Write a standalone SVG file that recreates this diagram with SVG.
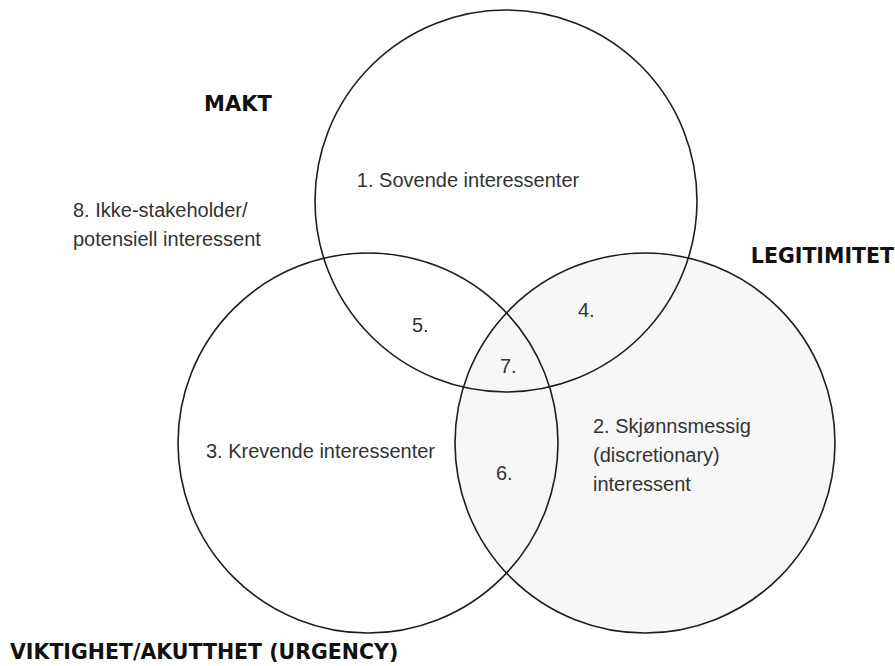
<svg xmlns="http://www.w3.org/2000/svg" width="895" height="666" viewBox="0 0 895 666">
<style>
.c{fill:none;stroke:#1e1e1e;stroke-width:1.6}
.t{font-family:"Liberation Sans",Arial,sans-serif;font-size:20px;fill:#333}
.h{font-family:"DejaVu Sans",Verdana,sans-serif;font-size:20.5px;font-weight:bold;fill:#111}
</style>
<rect width="895" height="666" fill="#fff"/>
<g id="circle-legitimitet"><circle cx="645" cy="443" r="190" fill="#f7f7f7" stroke="#1e1e1e" stroke-width="1.6"/></g>
<g id="circle-makt"><circle class="c" cx="506" cy="201" r="191"/></g>
<g id="circle-viktighet"><circle class="c" cx="368" cy="443" r="190"/></g>
<g id="labels">
<text class="h" x="204" y="111" style="font-size:21px">MAKT</text>
<text class="h" x="894" y="263" text-anchor="end">LEGITIMITET</text>
<text class="h" x="10" y="659">VIKTIGHET/AKUTTHET (URGENCY)</text>
</g>
<g id="region-1"><text class="t" x="468" y="187" text-anchor="middle">1. Sovende interessenter</text></g>
<g id="region-2"><text class="t" x="593" y="433">2. Skjønnsmessig</text><text class="t" x="593" y="462">(discretionary)</text><text class="t" x="593" y="491">interessent</text></g>
<g id="region-3"><text class="t" x="206" y="458">3. Krevende interessenter</text></g>
<g id="region-4"><text class="t" x="578" y="317">4.</text></g>
<g id="region-5"><text class="t" x="412" y="332">5.</text></g>
<g id="region-6"><text class="t" x="496" y="480">6.</text></g>
<g id="region-7"><text class="t" x="500" y="373">7.</text></g>
<g id="region-8"><text class="t" x="73" y="217">8. Ikke-stakeholder/</text><text class="t" x="73" y="246">potensiell interessent</text></g>
<g id="connectors"/>
</svg>
